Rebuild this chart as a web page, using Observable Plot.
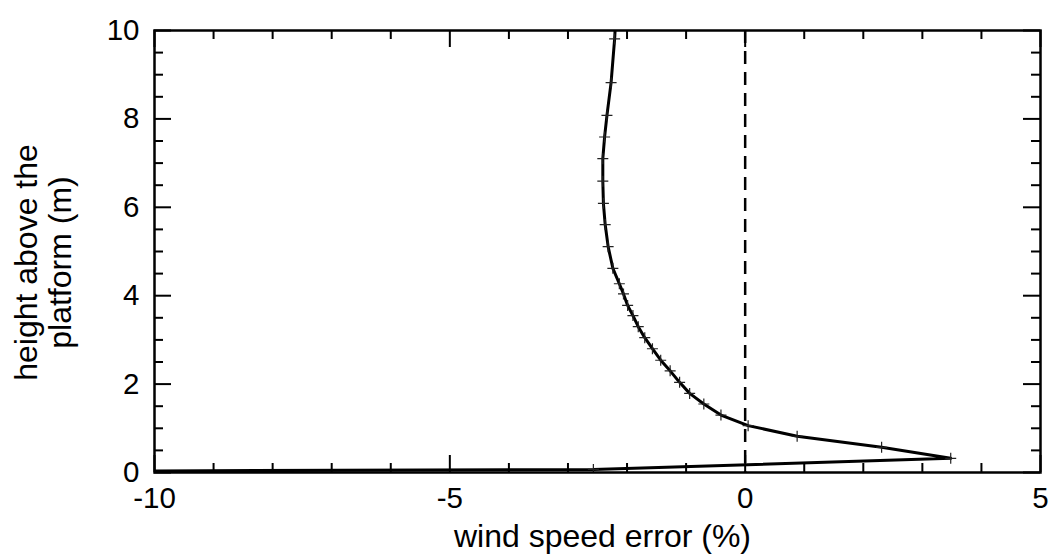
<!DOCTYPE html>
<html><head><meta charset="utf-8">
<script src="https://cdn.jsdelivr.net/npm/d3@7"></script>
<script src="https://cdn.jsdelivr.net/npm/@observablehq/plot@0.6"></script>
<style>body{margin:0;background:#fff;}</style>
</head><body><div id="chart"></div>
<script>
const heights = [0.0, 0.07, 0.32, 0.57, 0.82, 1.06, 1.30, 1.55, 1.79, 2.04, 2.30, 2.54, 2.80, 3.05, 3.30, 3.55, 3.78, 4.04, 4.27, 4.62, 5.11, 5.61, 6.09, 6.59, 7.10, 7.59, 8.08, 8.82, 9.81, 10.8];
const errors = [-17.4, -2.57, 3.48, 2.31, 0.88, 0.05, -0.41, -0.70, -0.94, -1.11, -1.27, -1.43, -1.57, -1.70, -1.81, -1.90, -1.99, -2.06, -2.13, -2.24, -2.32, -2.37, -2.40, -2.41, -2.41, -2.38, -2.34, -2.27, -2.21, -2.17];
const xMajorTicks = [-10, -5, 0, 5];
const xMinorTicks = [-9, -8, -7, -6, -4, -3, -2, -1, 1, 2, 3, 4];
const yMajorTicks = [0, 2, 4, 6, 8, 10];
const yMinorTicks = [0.5, 1, 1.5, 2.5, 3, 3.5, 4.5, 5, 5.5, 6.5, 7, 7.5, 8.5, 9, 9.5];
const xTitle = "wind speed error (%)";
const yTitle = "height above the\nplatform (m)";

const profile = heights.map((h, i) => ({h, e: errors[i]}));

const plusShape = {
  draw(context, size) {
    const r = Math.sqrt(size / Math.PI);
    context.moveTo(-r, 0); context.lineTo(r, 0);
    context.moveTo(0, -r); context.lineTo(0, r);
  }
};

const MAJ = 17, MIN = 9;
const tickMarks = [];
for (const [arr, len] of [[xMajorTicks, MAJ], [xMinorTicks, MIN]]) {
  tickMarks.push(Plot.ruleX(arr, {x: d => d, y1: () => 0, y2: () => 0, insetTop: 0, insetBottom: len, stroke: "black", strokeWidth: 2}));
  tickMarks.push(Plot.ruleX(arr, {x: d => d, y1: () => 10, y2: () => 10, insetTop: len, insetBottom: 0, stroke: "black", strokeWidth: 2}));
}
for (const [arr, len] of [[yMajorTicks, MAJ], [yMinorTicks, MIN]]) {
  tickMarks.push(Plot.ruleY(arr, {y: d => d, x1: () => -10, x2: () => -10, insetLeft: len, insetRight: 0, stroke: "black", strokeWidth: 2}));
  tickMarks.push(Plot.ruleY(arr, {y: d => d, x1: () => 5, x2: () => 5, insetLeft: 0, insetRight: len, stroke: "black", strokeWidth: 2}));
}

const chart = Plot.plot({
  width: 1053,
  height: 557,
  marginLeft: 154,
  marginRight: 13,
  marginTop: 30,
  marginBottom: 85,
  style: {fontFamily: "'Liberation Sans', Arial, Helvetica, sans-serif", fontSize: "29px", color: "black", background: "white"},
  x: {domain: [-10, 5]},
  y: {domain: [0, 10]},
  marks: [
    Plot.ruleX([0], {stroke: "black", strokeWidth: 2.5, strokeDasharray: "13,8"}),
    Plot.line(profile, {x: "e", y: "h", stroke: "black", strokeWidth: 3, clip: true}),
    Plot.dot(profile, {x: "e", y: "h", symbol: plusShape, r: 5.5, stroke: "#222", strokeWidth: 1.2, clip: true}),
    ...tickMarks,
    Plot.frame({stroke: "black", strokeWidth: 2.5}),
    Plot.axisX({ticks: xMajorTicks, tickSize: 0, tickPadding: 15, tickFormat: d => String(d), label: null, fontSize: 29.5}),
    Plot.axisY({ticks: yMajorTicks, tickSize: 0, tickPadding: 15, tickFormat: d => String(d), label: null, fontSize: 29.5}),
    Plot.text([xTitle], {frameAnchor: "bottom", dy: 52, dx: 5, lineAnchor: "top", textAnchor: "middle", fontSize: 32}),
    Plot.text([yTitle], {frameAnchor: "left", rotate: -90, dx: -111, dy: 11, lineAnchor: "middle", textAnchor: "middle", lineHeight: 1.05, fontSize: 32})
  ]
});
document.getElementById("chart").appendChild(chart);
</script>
</body></html>
